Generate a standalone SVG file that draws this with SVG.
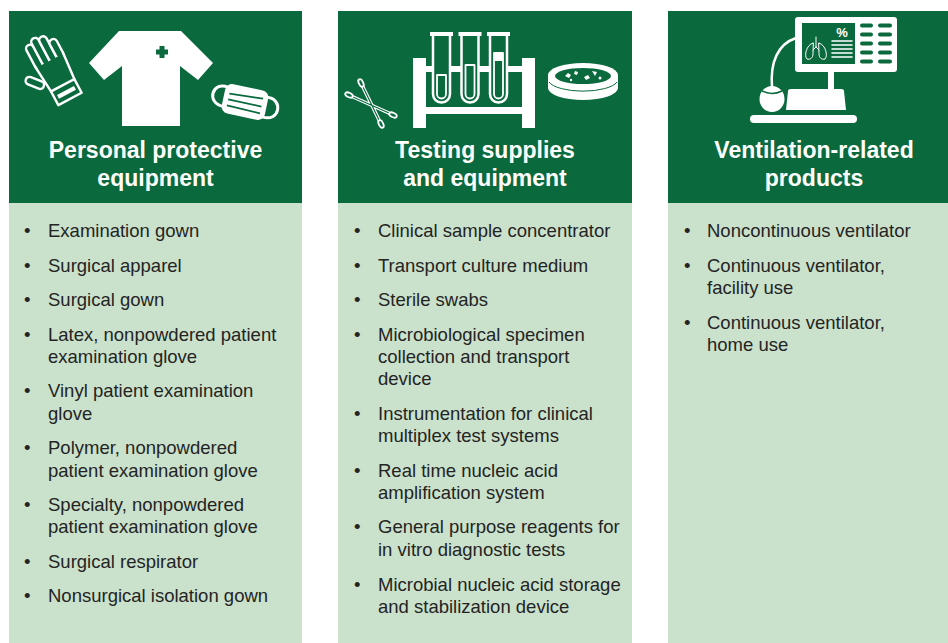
<svg xmlns="http://www.w3.org/2000/svg" width="948" height="643" viewBox="0 0 948 643">
<style>
.hd{fill:#0a6a3e}
.bd{fill:#cae1cb}
.ht{font-family:"Liberation Sans",Arial,sans-serif;font-size:23px;font-weight:bold;fill:#ffffff;text-anchor:middle}
.tx{font-family:"Liberation Sans",Arial,sans-serif;font-size:18.5px;fill:#242424}
.w{fill:#ffffff}
.g{fill:#0a6a3e}
.ws{fill:none;stroke:#ffffff;stroke-linecap:round;stroke-linejoin:round}
.wsg{fill:#0a6a3e;stroke:#ffffff;stroke-linejoin:round}
</style>
<rect width="948" height="643" fill="#ffffff"/>

<g id="node-ppe">
  <rect class="hd" x="9" y="11" width="293" height="192"/>
  <rect class="bd" x="9" y="203" width="293" height="440"/>
  <!-- glove -->
  <g transform="translate(70,99) rotate(-28) scale(1.2)">
    <g class="wsg" stroke-width="2">
      <rect x="-13" y="-56" width="6.5" height="22" rx="3.2"/>
      <rect x="-6.5" y="-59" width="6.5" height="25" rx="3.2"/>
      <rect x="0" y="-57" width="6.5" height="23" rx="3.2"/>
      <rect x="6.5" y="-51" width="6.5" height="17" rx="3.2"/>
      <rect x="-6" y="-15" width="6.5" height="16" rx="3.2" transform="translate(-13,-22) rotate(-40)"/>
    </g>
    <path class="g" d="M-12 -36 L12 -36 L11 -13 L-11 -13 Z"/>
    <path class="ws" stroke-width="2" d="M-13 -37 L-11 -13 M13 -37 L11 -13"/>
    <rect class="wsg" stroke-width="2" x="-11" y="-13" width="22" height="13"/>
    <rect class="w" x="-8" y="-8" width="16" height="3.5"/>
  </g>
  <!-- shirt -->
  <path class="w" d="M119 31 L181 31 L213 63 L198 80 L180 66 L180 126 L122 126 L122 66 L104 80 L89 63 Z"/>
  <path class="g" d="M159.5 46 h5 v3.5 h3.5 v5 h-3.5 v3.5 h-5 v-3.5 h-3.5 v-5 h3.5 Z"/>
  <!-- mask -->
  <g transform="translate(245,102) rotate(12)">
    <path class="ws" stroke-width="3" d="M-20 -11 C-36 -14 -39 9 -20 9"/>
    <path class="ws" stroke-width="3" d="M20 -9 C37 -12 39 13 20 11"/>
    <rect class="w" x="-22" y="-15" width="44" height="30" rx="7"/>
    <path fill="none" stroke="#0a6a3e" stroke-width="1.8" d="M-17 -5 L17 -7 M-17 1 L17 1 M-17 7 L17 8"/>
  </g>
  <text class="ht" x="155.5" y="158">Personal protective</text>
  <text class="ht" x="155.5" y="186">equipment</text>
  <g class="tx">
    <text x="24" y="237.3">•</text><text x="48" y="237.3">Examination gown</text>
    <text x="24" y="271.7">•</text><text x="48" y="271.7">Surgical apparel</text>
    <text x="24" y="306.1">•</text><text x="48" y="306.1">Surgical gown</text>
    <text x="24" y="340.5">•</text><text x="48" y="340.5">Latex, nonpowdered patient</text>
    <text x="48" y="362.9">examination glove</text>
    <text x="24" y="397.3">•</text><text x="48" y="397.3">Vinyl patient examination</text>
    <text x="48" y="419.7">glove</text>
    <text x="24" y="454.1">•</text><text x="48" y="454.1">Polymer, nonpowdered</text>
    <text x="48" y="476.5">patient examination glove</text>
    <text x="24" y="510.9">•</text><text x="48" y="510.9">Specialty, nonpowdered</text>
    <text x="48" y="533.3">patient examination glove</text>
    <text x="24" y="567.7">•</text><text x="48" y="567.7">Surgical respirator</text>
    <text x="24" y="602.3">•</text><text x="48" y="602.3">Nonsurgical isolation gown</text>
  </g>
</g>

<g id="node-testing">
  <rect class="hd" x="338" y="11" width="294" height="192"/>
  <rect class="bd" x="338" y="203" width="294" height="440"/>
  <!-- swabs -->
  <g>
    <path class="ws" stroke-width="3.5" d="M351 96 L391 114 M362 85 L380 122"/>
    <path fill="none" stroke="#0a6a3e" stroke-width="1.2" d="M353 97 L389 113 M363 87 L379 120"/>
    <g class="wsg" stroke-width="1.8">
      <ellipse cx="349" cy="95" rx="4" ry="2.2" transform="rotate(24 349 95)"/>
      <ellipse cx="393" cy="115" rx="4" ry="2.2" transform="rotate(24 393 115)"/>
      <ellipse cx="361" cy="83" rx="4" ry="2.2" transform="rotate(64 361 83)"/>
      <ellipse cx="381" cy="124" rx="4" ry="2.2" transform="rotate(64 381 124)"/>
    </g>
  </g>
  <!-- rack -->
  <rect class="w" x="413" y="58" width="13" height="70"/>
  <rect class="w" x="522" y="58" width="13" height="70"/>
  <rect class="w" x="426" y="66" width="96" height="6"/>
  <rect class="w" x="426" y="107" width="96" height="7"/>
  <g class="wsg" stroke-width="2.5">
    <path d="M433 35 L433 94 A8.5 8.5 0 0 0 450 94 L450 35"/>
    <path d="M461.5 35 L461.5 94 A8.5 8.5 0 0 0 478.5 94 L478.5 35"/>
    <path d="M490 35 L490 94 A8.5 8.5 0 0 0 507 94 L507 35"/>
  </g>
  <rect class="w" x="430" y="32" width="23" height="4"/>
  <rect class="w" x="458.5" y="32" width="23" height="4"/>
  <rect class="w" x="487" y="32" width="23" height="4"/>
  <g class="ws" stroke-width="1.8">
    <path d="M437 75 L437 94 A4.5 4.5 0 0 0 446 94 L446 75 Z"/>
    <path d="M465.5 65 L465.5 94 A4.5 4.5 0 0 0 474.5 94 L474.5 65 Z"/>
    <path d="M494 53 L494 94 A4.5 4.5 0 0 0 503 94 L503 53 Z"/>
  </g>
  <rect class="w" x="494" y="53" width="9" height="8"/>
  <!-- petri dish -->
  <path class="w" d="M548 75 L548 88 A35 12 0 0 0 618 88 L618 75 Z"/>
  <ellipse class="w" cx="583" cy="75" rx="35" ry="12"/>
  <path fill="none" stroke="#0a6a3e" stroke-width="1" d="M549 82 A35 12 0 0 0 617 82"/>
  <ellipse class="g" cx="583" cy="76" rx="28" ry="8"/>
  <g class="w">
    <path d="M565 76 l3 -3 l3 2 l-2 3 z"/>
    <path d="M575 71 l3 1 l-1 3 l-3 -1 z"/>
    <path d="M584 77 l4 -2 l2 3 l-4 2 z"/>
    <path d="M592 71 l5 1 l-2 4 z"/>
    <circle cx="600" cy="78" r="1.5"/>
    <circle cx="571" cy="80" r="1.2"/>
  </g>
  <text class="ht" x="485" y="158">Testing supplies</text>
  <text class="ht" x="485" y="186">and equipment</text>
  <g class="tx">
    <text x="354" y="237.3">•</text><text x="378" y="237.3">Clinical sample concentrator</text>
    <text x="354" y="271.7">•</text><text x="378" y="271.7">Transport culture medium</text>
    <text x="354" y="306.1">•</text><text x="378" y="306.1">Sterile swabs</text>
    <text x="354" y="340.5">•</text><text x="378" y="340.5">Microbiological specimen</text>
    <text x="378" y="362.9">collection and transport</text>
    <text x="378" y="385.3">device</text>
    <text x="354" y="419.7">•</text><text x="378" y="419.7">Instrumentation for clinical</text>
    <text x="378" y="442.1">multiplex test systems</text>
    <text x="354" y="476.5">•</text><text x="378" y="476.5">Real time nucleic acid</text>
    <text x="378" y="498.9">amplification system</text>
    <text x="354" y="533.3">•</text><text x="378" y="533.3">General purpose reagents for</text>
    <text x="378" y="555.7">in vitro diagnostic tests</text>
    <text x="354" y="590.6">•</text><text x="378" y="590.6">Microbial nucleic acid storage</text>
    <text x="378" y="613">and stabilization device</text>
  </g>
</g>

<g id="node-ventilation">
  <rect class="hd" x="668" y="11" width="293" height="192"/>
  <rect class="bd" x="668" y="203" width="293" height="440"/>
  <!-- ventilator -->
  <path class="ws" stroke-width="2.5" d="M796 38 C778 44 770 62 772 87"/>
  <rect class="w" x="795" y="17" width="102" height="55" rx="3"/>
  <rect class="g" x="802" y="23" width="53" height="41"/>
  <g class="g">
    <rect x="860" y="23.5" width="13" height="4" rx="2"/><rect x="878" y="23.5" width="14" height="4" rx="2"/>
    <rect x="860" y="32.5" width="13" height="4" rx="2"/><rect x="878" y="32.5" width="14" height="4" rx="2"/>
    <rect x="860" y="41.5" width="13" height="4" rx="2"/><rect x="878" y="41.5" width="14" height="4" rx="2"/>
    <rect x="860" y="50.5" width="13" height="4" rx="2"/><rect x="878" y="50.5" width="14" height="4" rx="2"/>
    <rect x="860" y="59.5" width="13" height="4" rx="2"/><rect x="878" y="59.5" width="14" height="4" rx="2"/>
  </g>
  <text x="842" y="37" font-family="'Liberation Sans',Arial,sans-serif" font-size="13" font-weight="bold" fill="#ffffff" text-anchor="middle">%</text>
  <path class="ws" stroke-width="1.6" stroke-linecap="butt" d="M832 41 H852 M832 45 H852 M832 49 H852 M832 53 H852 M832 57 H852"/>
  <g class="ws" stroke-width="1">
    <path d="M813 43 C806 45 804 56 807 59 C810 60 813 58 813 54 Z"/>
    <path d="M819 43 C826 45 828 56 825 59 C822 60 819 58 819 54 Z"/>
    <path d="M816 37 L816 47 M816 47 L813 50 M816 47 L819 50"/>
  </g>
  <rect class="w" x="828" y="71" width="6" height="20"/>
  <path class="w" d="M788 91 Q788 89 791 89 L841 89 Q844 89 844 91 L846 110 L786 110 Z"/>
  <rect class="w" x="750" y="115" width="107" height="8" rx="4"/>
  <ellipse class="w" cx="772" cy="99" rx="12.5" ry="13"/>
  <path fill="none" stroke="#0a6a3e" stroke-width="1.5" d="M762 91 Q772 96 782 91"/>
  <text class="ht" x="814" y="158">Ventilation-related</text>
  <text class="ht" x="814" y="186">products</text>
  <g class="tx">
    <text x="684" y="237.3">•</text><text x="707" y="237.3">Noncontinuous ventilator</text>
    <text x="684" y="271.7">•</text><text x="707" y="271.7">Continuous ventilator,</text>
    <text x="707" y="294.1">facility use</text>
    <text x="684" y="328.5">•</text><text x="707" y="328.5">Continuous ventilator,</text>
    <text x="707" y="350.9">home use</text>
  </g>
</g>

<g id="connectors"/>
</svg>
